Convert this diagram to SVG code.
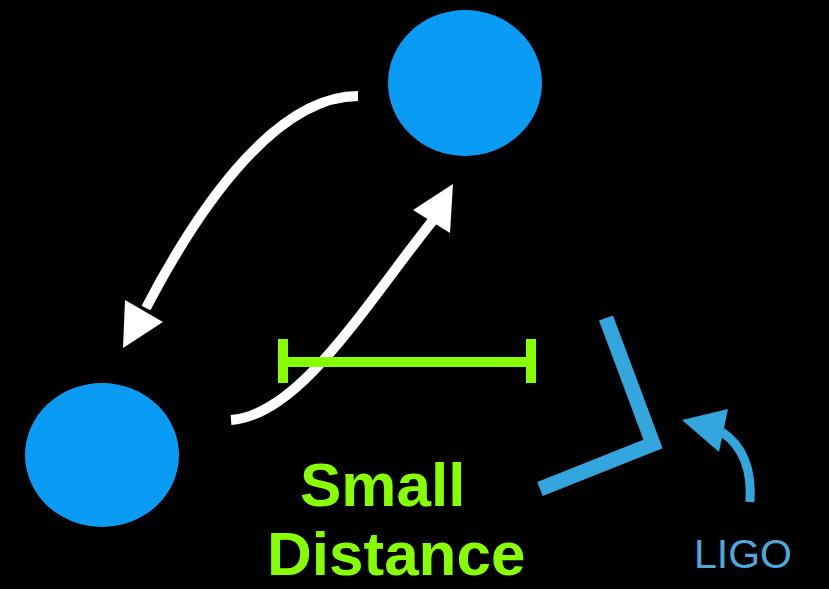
<svg xmlns="http://www.w3.org/2000/svg" width="829" height="589" viewBox="0 0 829 589">
<defs>
<style>
.mass{fill:#0a9bf5}
.warrow{fill:none;stroke:#ffffff;stroke-width:10}
.whead{fill:#ffffff}
.ruler{fill:none;stroke:#88ff00;stroke-width:10}
.label{font-family:"Liberation Sans",Arial,sans-serif;font-weight:bold;font-size:62px;fill:#88ff00}
.ligo{fill:none;stroke:#33a6dd;stroke-width:15;stroke-linejoin:miter}
.barrow{fill:none;stroke:#33a6dd;stroke-width:9}
.bhead{fill:#33a6dd}
.ligotext{font-family:"Liberation Sans",Arial,sans-serif;font-size:41px;fill:#4ea8de}
</style>
</defs>
<rect x="0" y="0" width="829" height="589" fill="#000000"/>
<g id="mass-top"><ellipse class="mass" cx="465" cy="83" rx="77" ry="73"/></g>
<g id="mass-bottom"><ellipse class="mass" cx="102" cy="455" rx="77" ry="72"/></g>
<g id="connectors">
<path class="warrow" d="M 358 96 C 280 96, 205 195, 146 308"/>
<polygon class="whead" points="123,348 125,300 163,322"/>
<path class="warrow" d="M 231 420 C 300 415, 365 305, 434 219"/>
<polygon class="whead" points="453,184 413,210 450,233"/>
<path class="barrow" d="M 750 502 C 752 470, 743 446, 722 432"/>
<polygon class="bhead" points="682,420 728,409 719,452"/>
</g>
<g id="ruler">
<line class="ruler" x1="283" y1="362" x2="531" y2="362"/>
<line class="ruler" x1="283" y1="339" x2="283" y2="383"/>
<line class="ruler" x1="531" y1="339" x2="531" y2="383"/>
</g>
<g id="small-distance">
<text class="label" x="300" y="506">Small</text>
<text class="label" x="267" y="575">Distance</text>
</g>
<g id="ligo">
<polyline class="ligo" points="606,318 653,444 540,489"/>
<text class="ligotext" x="694" y="568">LIGO</text>
</g>
</svg>
